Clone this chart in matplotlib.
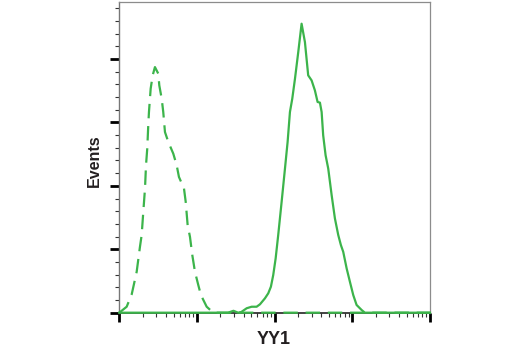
import numpy as np
import matplotlib
matplotlib.use("Agg")
import matplotlib.pyplot as plt
from matplotlib.ticker import LogLocator, MultipleLocator, NullFormatter

# Control (dashed) histogram: log10 intensity, events
ctrl_log = [0.0, 0.095, 0.160, 0.224, 0.266, 0.288, 0.309, 0.331, 0.344, 0.360, 0.373,
            0.382, 0.404, 0.430, 0.459, 0.502, 0.515, 0.546, 0.566, 0.588, 0.631, 0.695,
            0.739, 0.768, 0.833, 0.855, 0.880, 0.910, 0.940, 0.974, 1.017, 1.051, 1.125,
            1.210, 4.0]
ctrl_ev = [0.0, 4.7, 14.5, 32.3, 51.9, 61.2, 79.5, 97.9, 116.2, 129.4, 147.7,
           158.2, 176.6, 187.1, 193.6, 188.4, 179.2, 168.7, 158.2, 142.4, 134.6, 125.4,
           116.2, 107.0, 97.9, 87.4, 69.0, 59.8, 45.4, 32.3, 21.8, 13.9, 4.7,
           0.0, 0.0]

# YY1 (solid) histogram
yy1_log = [0.0, 1.40, 1.47, 1.53, 1.57, 1.640, 1.704, 1.768, 1.811, 1.875, 1.918, 1.952,
           1.982, 2.013, 2.046, 2.090, 2.133, 2.167, 2.197, 2.227, 2.262, 2.304, 2.347,
           2.390, 2.432, 2.476, 2.518, 2.553, 2.583, 2.605, 2.625, 2.656, 2.690, 2.734,
           2.776, 2.819, 2.853, 2.883, 2.927, 2.969, 3.012, 3.055, 3.120, 3.162, 4.0]
yy1_ev = [0.0, 0.0, 1.5, 0.0, 0.5, 3.5, 4.7, 4.7, 6.6, 11.3, 15.3, 20.5,
          29.7, 42.8, 61.2, 87.4, 113.6, 134.6, 158.2, 168.7, 184.5, 205.4, 227.8,
          213.3, 187.1, 183.1, 175.3, 166.1, 165.6, 158.2, 139.8, 124.1, 113.6, 92.6,
          74.3, 61.2, 53.3, 48.0, 34.9, 24.4, 13.9, 6.1, 2.1, 0.0, 0.0]

green = "#3cb44b"

fig = plt.figure(figsize=(5.2, 3.5), dpi=100)
ax = fig.add_axes([0.2294, 0.1066, 0.5975, 0.888])

ax.plot(10 ** np.array(ctrl_log), ctrl_ev, color=green, lw=1.6,
        linestyle=(0, (6.5, 3.5)), clip_on=False, zorder=3)
ax.plot(10 ** np.array(yy1_log), yy1_ev, color=green, lw=1.6, clip_on=False, zorder=3)

ax.set_xscale("log")
ax.set_xlim(1, 1e4)
ax.set_ylim(0, 245)

ax.xaxis.set_major_locator(LogLocator(base=10, numticks=10))
ax.xaxis.set_minor_locator(LogLocator(base=10, subs=np.arange(2, 10), numticks=20))
ax.xaxis.set_major_formatter(NullFormatter())
ax.xaxis.set_minor_formatter(NullFormatter())
ax.yaxis.set_major_locator(MultipleLocator(50))
ax.yaxis.set_minor_locator(MultipleLocator(10))
ax.yaxis.set_major_formatter(NullFormatter())

ax.tick_params(axis="both", which="major", direction="out", length=6.5, width=2.0, color="black")
ax.tick_params(axis="both", which="minor", direction="out", length=3.0, width=0.8, color="#333333")

for s in ["top", "right"]:
    ax.spines[s].set_color("#8c8c8c")
    ax.spines[s].set_linewidth(0.9)
ax.spines["left"].set_color("#777777")
ax.spines["left"].set_linewidth(1.0)
ax.spines["bottom"].set_color("#222222")
ax.spines["bottom"].set_linewidth(1.2)

font = ["Liberation Sans", "DejaVu Sans"]
fig.text(274 / 520, 1 - 339 / 350, "YY1", fontsize=13, fontweight="bold", family=font,
         color="#231f20", ha="center", va="center")
fig.text(94.5 / 520, 1 - 161 / 350, "Events", fontsize=11.5, fontweight="bold", family=font,
         color="#231f20", ha="center", va="center", rotation=90)

fig.savefig("out.png", dpi=100)
